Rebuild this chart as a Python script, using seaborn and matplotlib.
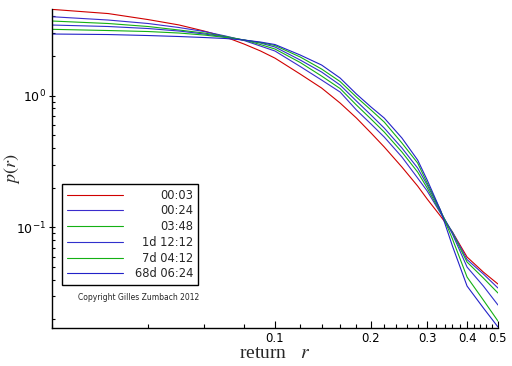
import numpy as np
import pandas as pd
import matplotlib
matplotlib.use("Agg")
import matplotlib.pyplot as plt
import matplotlib.ticker as mticker
import seaborn as sns

# ---- data ----
r = [0.02, 0.03, 0.04, 0.05, 0.06, 0.07, 0.08, 0.09, 0.10, 0.12, 0.14, 0.16,
     0.18, 0.20, 0.22, 0.25, 0.28, 0.30, 0.33, 0.36, 0.40, 0.45, 0.50]

p_0003 = [4.53, 4.21, 3.79, 3.45, 3.10, 2.79, 2.47, 2.19, 1.93, 1.46, 1.144, 0.880,
          0.677, 0.521, 0.408, 0.287, 0.206, 0.164, 0.122, 0.092, 0.0595, 0.0457, 0.0371]
p_0024 = [3.984, 3.760, 3.538, 3.298, 3.075, 2.842, 2.627, 2.386, 2.186, 1.667, 1.316, 1.067,
          0.779, 0.6095, 0.4856, 0.3421, 0.2369, 0.1888, 0.1284, 0.0921, 0.0569, 0.0442, 0.0346]
p_0348 = [3.695, 3.538, 3.357, 3.157, 2.995, 2.818, 2.650, 2.449, 2.264, 1.788, 1.411, 1.134,
          0.850, 0.665, 0.530, 0.3734, 0.2631, 0.1989, 0.1307, 0.0905, 0.0545, 0.0412, 0.0317]
p_1d = [3.445, 3.357, 3.241, 3.102, 2.944, 2.793, 2.650, 2.515, 2.345, 1.867, 1.514, 1.206,
        0.911, 0.713, 0.568, 0.4006, 0.2822, 0.2096, 0.1330, 0.0889, 0.0499, 0.0358, 0.0257]
p_7d = [3.196, 3.129, 3.075, 2.995, 2.892, 2.769, 2.650, 2.537, 2.407, 1.968, 1.595, 1.282,
        0.977, 0.779, 0.631, 0.437, 0.308, 0.2171, 0.1353, 0.0815, 0.0419, 0.0280, 0.0194]
p_68d = [2.944, 2.917, 2.867, 2.818, 2.769, 2.721, 2.650, 2.559, 2.449, 2.038, 1.711, 1.363,
         1.030, 0.821, 0.677, 0.477, 0.3247, 0.2288, 0.1353, 0.0720, 0.0358, 0.0244, 0.0175]

series_names = ["00:03", "00:24", "03:48", "1d 12:12", "7d 04:12", "68d 06:24"]
series_values = [p_0003, p_0024, p_0348, p_1d, p_7d, p_68d]
series_colors = ["#d00000", "#3a2ccc", "#14b014", "#3030cc", "#14b014", "#2222c8"]

x_major = [0.1, 0.2, 0.3, 0.4, 0.5]
x_major_labels = ["0.1", "0.2", "0.3", "0.4", "0.5"]
y_major = [0.1, 1.0]
y_major_labels = ["$10^{-1}$", "$10^{0}$"]

# ---- plot ----
sns.set_style("ticks")
plt.rcParams["font.family"] = ["DejaVu Sans"]
plt.rcParams["mathtext.fontset"] = "dejavusans"

fig = plt.figure(figsize=(5.12, 3.66), dpi=100)
ax = fig.add_axes([52 / 512, 1 - 328 / 366, 446 / 512, 319 / 366])

rows = []
for name, vals in zip(series_names, series_values):
    for x, y in zip(r, vals):
        rows.append({"r": x, "p": y, "series": name})
df = pd.DataFrame(rows)

sns.lineplot(data=df, x="r", y="p", hue="series", hue_order=series_names,
             palette=series_colors, linewidth=0.8, ax=ax, legend=False)

ax.set_xscale("log")
ax.set_yscale("log")
ax.set_xlim(0.02, 0.5)
ax.set_ylim(0.0172, 4.56)

ax.xaxis.set_major_locator(mticker.FixedLocator(x_major))
ax.xaxis.set_major_formatter(mticker.FixedFormatter(x_major_labels))
minors = [m / 100 for m in range(2, 51, 2) if round(m / 100, 2) not in x_major]
ax.xaxis.set_minor_locator(mticker.FixedLocator(minors))
ax.xaxis.set_minor_formatter(mticker.NullFormatter())

ax.yaxis.set_major_locator(mticker.FixedLocator(y_major))
ax.yaxis.set_major_formatter(mticker.FixedFormatter(y_major_labels))
ax.yaxis.set_minor_locator(mticker.LogLocator(base=10, subs=np.arange(2, 10)))
ax.yaxis.set_minor_formatter(mticker.NullFormatter())

for s in ["top", "right"]:
    ax.spines[s].set_visible(False)
for s in ["left", "bottom"]:
    ax.spines[s].set_color("black")
    ax.spines[s].set_linewidth(1.0)

ax.tick_params(axis="x", which="both", bottom=True, top=False)
ax.tick_params(axis="y", which="both", left=True, right=False)
ax.tick_params(axis="x", which="major", direction="in", length=5, width=0.8,
               labelsize=8.5, pad=3, colors="black")
ax.tick_params(axis="x", which="minor", direction="in", length=3, width=0.8, colors="black")
ax.tick_params(axis="y", which="major", direction="inout", length=5, width=0.8,
               labelsize=9, pad=2, colors="black")
ax.tick_params(axis="y", which="minor", direction="in", length=2.5, width=0.8, colors="black")

ax.set_xlabel("return   $r$", fontsize=14, family="Liberation Serif",
              math_fontfamily="stix", labelpad=0)
ax.set_ylabel("$p(r)$", fontsize=13, math_fontfamily="stix")
ax.yaxis.set_label_coords(-0.067, 0.5)

handles = ax.get_lines()[:len(series_names)]
leg = ax.legend(handles, series_names, loc="upper left",
                bbox_to_anchor=(10 / 446, (328 - 184) / 319), borderaxespad=0,
                fontsize=8.3, frameon=True, fancybox=False, framealpha=1,
                edgecolor="black", handlelength=4.9, handletextpad=1.0,
                borderpad=0.4, labelspacing=0.24)
leg.get_frame().set_linewidth(1.0)

ax.text(26 / 446, (328 - 297) / 319, "Copyright Gilles Zumbach 2012",
        transform=ax.transAxes, fontsize=5.5, va="center", ha="left")

# right-align legend labels (keep handle length constant)
fig.canvas.draw()
renderer = fig.canvas.get_renderer()
col = leg._legend_handle_box.get_children()[0]
items = col.get_children()
widths = [it.get_children()[1]._text.get_window_extent(renderer).width for it in items]
mw = max(widths)
for it, w in zip(items, widths):
    it.get_children()[0].width += (mw - w) * 72 / fig.dpi

fig.savefig("out.png", dpi=100)
